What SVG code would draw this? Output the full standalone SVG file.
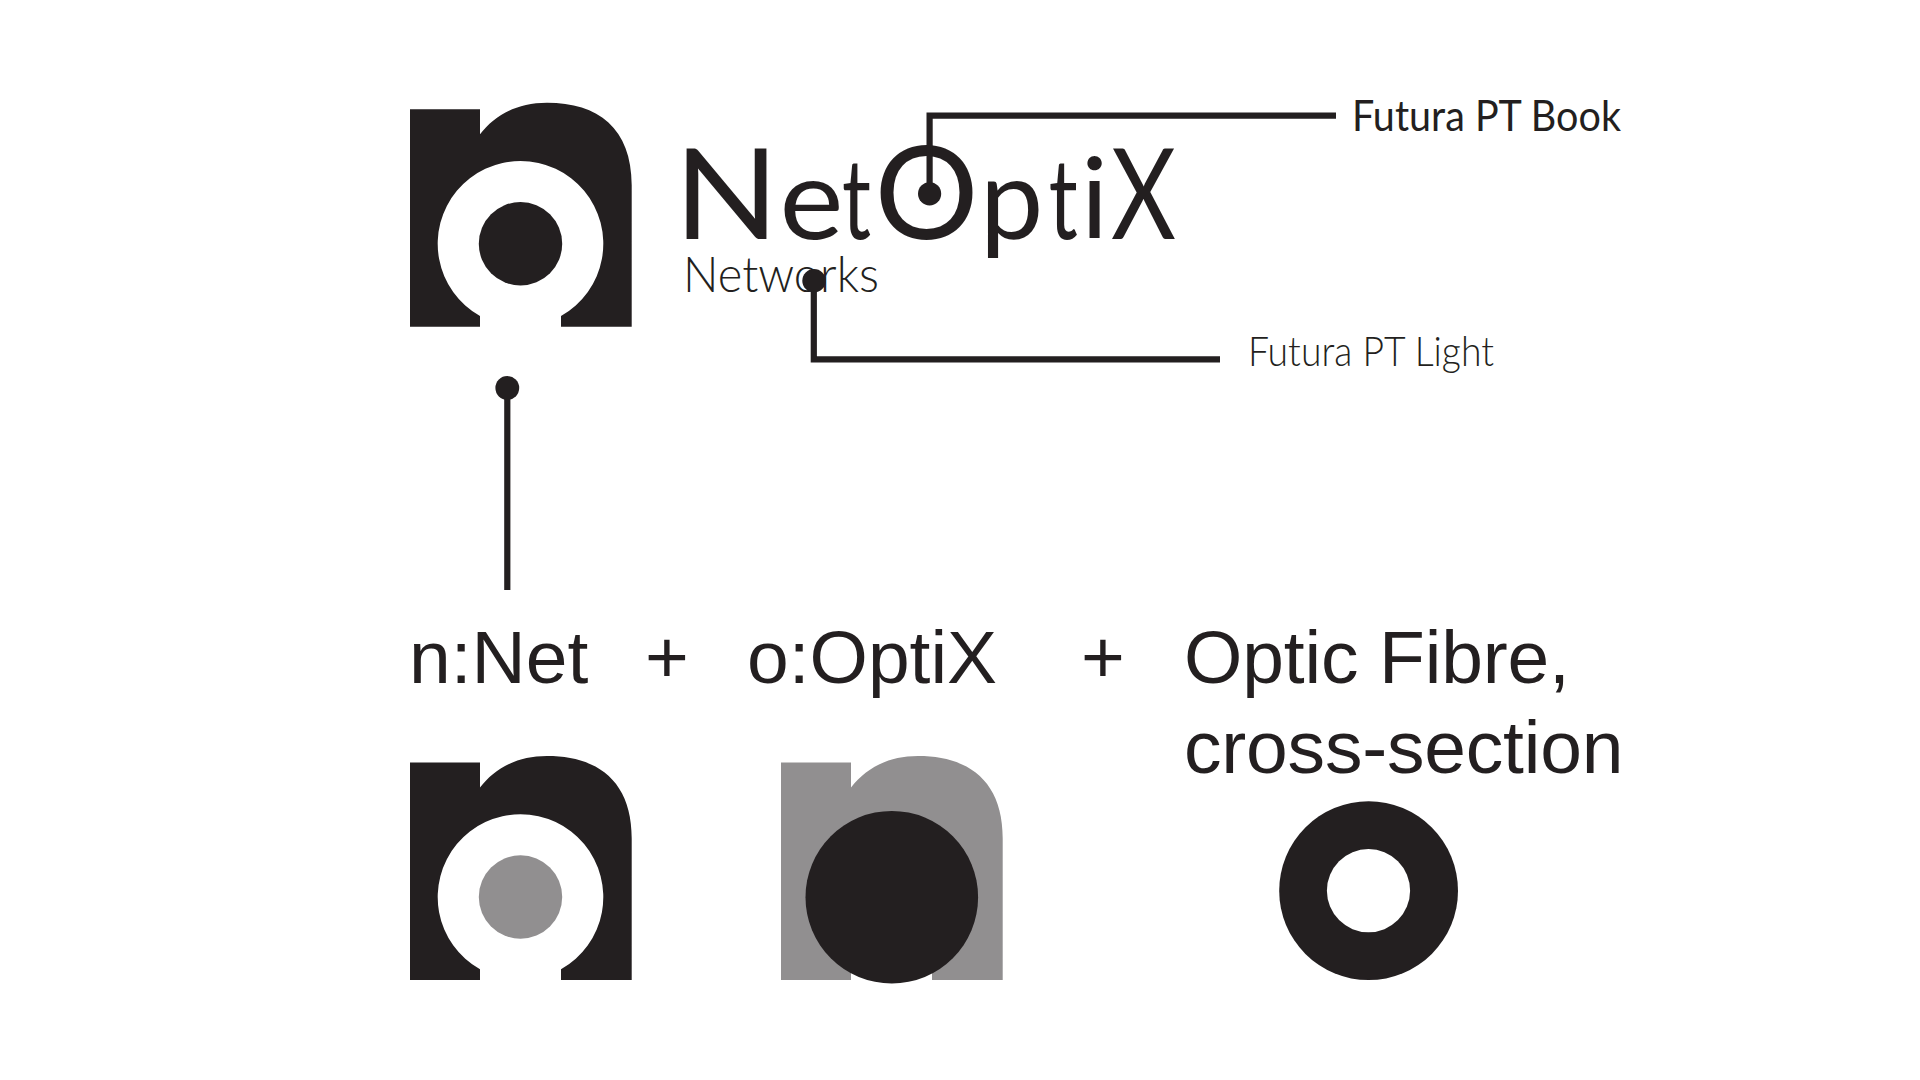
<svg xmlns="http://www.w3.org/2000/svg" width="1920" height="1080" viewBox="0 0 1920 1080">
<style>
.k{fill:#231f20}
.g{fill:#918f90}
.w{fill:#fff}
.ln{fill:none;stroke:#231f20;stroke-width:6.2}
.lato{font-family:"Lato","Noto Sans",sans-serif;fill:#231f20}
.hv{font-family:"Liberation Sans",Arial,sans-serif;font-size:75px;fill:#231f20}
</style>
<defs>
<path id="nshape" d="M410,109.3H480V134.3C494,116 516,102.7 547,102.7C598,102.7 631.7,128 631.7,185V326.7H561V316A82.8,82.8 0 1 0 480,316V326.7H410Z"/>
</defs>
<rect width="1920" height="1080" fill="#fff"/>
<g id="logo-mark">
<use href="#nshape" class="k"/>
<circle cx="520.5" cy="243.7" r="41.7" class="k"/>
</g>
<g id="wordmark">
<text class="lato" y="239" font-size="113"><tspan x="674" font-size="127" textLength="105" lengthAdjust="spacingAndGlyphs">N</tspan><tspan x="779.5" textLength="64" lengthAdjust="spacingAndGlyphs">e</tspan><tspan x="842" textLength="29" lengthAdjust="spacingAndGlyphs">t</tspan><tspan x="874.5" font-size="130">O</tspan><tspan x="980">p</tspan><tspan x="1048.7" textLength="29" lengthAdjust="spacingAndGlyphs">t</tspan><tspan x="1081">i</tspan><tspan x="1111" font-size="127" textLength="65" lengthAdjust="spacingAndGlyphs">X</tspan></text>
<text class="lato" x="683" y="292" font-size="49" font-weight="300" textLength="196" lengthAdjust="spacingAndGlyphs">Networks</text>
</g>
<g id="connectors">
<path class="ln" d="M929.6,193.8V115.7H1336"/>
<circle cx="929.6" cy="193.8" r="11.6" class="k"/>
<path class="ln" d="M813.8,281V359.3H1220"/>
<circle cx="814" cy="280.8" r="11.7" class="k"/>
<path class="ln" d="M507.3,388V590"/>
<circle cx="507.3" cy="388" r="11.9" class="k"/>
</g>
<g id="label-book"><text class="lato" x="1352" y="130.7" font-size="42" textLength="269" lengthAdjust="spacingAndGlyphs">Futura PT Book</text></g>
<g id="label-light"><text class="lato" x="1248" y="365.7" font-size="42" font-weight="300" textLength="246" lengthAdjust="spacingAndGlyphs">Futura PT Light</text></g>
<g id="label-net"><text class="hv" x="409" y="682.7">n:Net</text></g>
<g id="plus-1"><text class="hv" x="645" y="682.7">+</text></g>
<g id="label-optix"><text class="hv" x="747" y="682.7">o:OptiX</text></g>
<g id="plus-2"><text class="hv" x="1081" y="682.7">+</text></g>
<g id="label-fibre"><text class="hv" x="1184" y="682.7" letter-spacing="-.15">Optic Fibre,</text><text class="hv" x="1184" y="772.7" letter-spacing="-.2">cross-section</text></g>
<g id="mark-net">
<use href="#nshape" class="k" transform="translate(0,653.3)"/>
<circle cx="520.5" cy="897" r="41.7" class="g"/>
</g>
<g id="mark-optix">
<use href="#nshape" class="g" transform="translate(371,653.3)"/>
<circle cx="891.8" cy="897.2" r="86.3" class="k"/>
</g>
<g id="mark-fibre">
<circle cx="1368.6" cy="890.7" r="89.4" class="k"/>
<circle cx="1368.5" cy="890.7" r="41.6" class="w"/>
</g>
</svg>
